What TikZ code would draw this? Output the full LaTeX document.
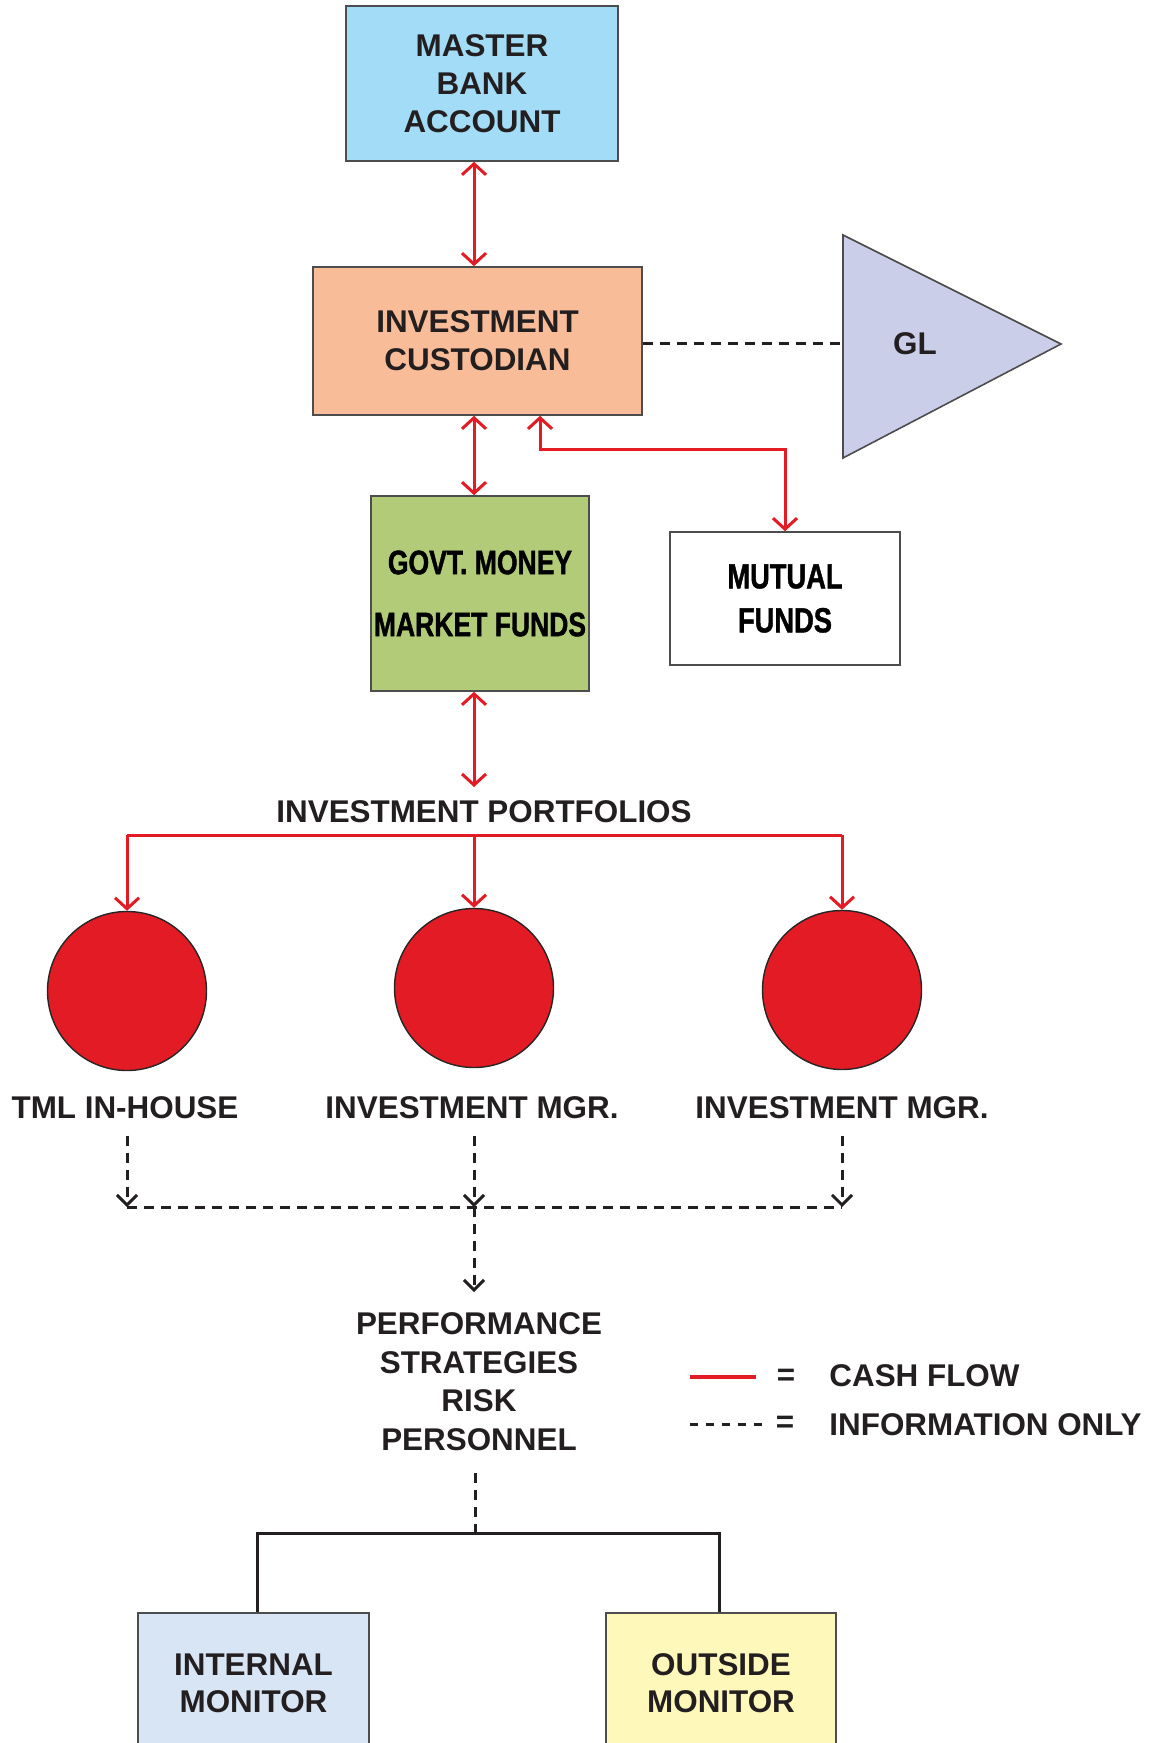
\documentclass[tikz,border=0pt]{standalone}
\usepackage{fontspec}
\setmainfont{Liberation Sans}
\newfontfamily\condf[FakeStretch=0.78,FakeBold=1.2]{Liberation Sans}
\usetikzlibrary{arrows.meta}
\definecolor{txt}{HTML}{231F20}
\definecolor{boxline}{HTML}{4D4D4F}
\definecolor{mbblue}{HTML}{A3DCF6}
\definecolor{custo}{HTML}{F9BC99}
\definecolor{glcol}{HTML}{CACEE8}
\definecolor{govg}{HTML}{B1CB78}
\definecolor{cashred}{HTML}{E21B24}
\definecolor{intcol}{HTML}{D8E5F4}
\definecolor{outcol}{HTML}{FEF8BA}
\begin{document}
\begin{tikzpicture}[x=0.5pt,y=-0.5pt,
  >={Straight Barb[length=5.5pt,width=12pt]},
  every node/.style={text=txt},
  box/.style={draw=boxline,line width=0.8pt,inner sep=0pt,align=center,font=\bfseries\fontsize{15.7}{19}\selectfont},
  lbl/.style={align=center,inner sep=0pt,font=\bfseries\fontsize{15.7}{19}\selectfont},
  cash/.style={draw=cashred,line width=1.5pt},
  info/.style={draw=txt,line width=1.5pt,dash pattern=on 5pt off 3.5pt},
  infotip/.style={-{Straight Barb[length=5pt,width=10pt]}},
  port/.style={circle,minimum size=79.5pt,inner sep=0pt,fill=cashred,draw=black!85,line width=0.7pt},
]
\useasboundingbox (0,0) rectangle (1163,1743);
\fill[white] (0,0) rectangle (1163,1743);

% boxes
\node[box,fill=mbblue,minimum width=136pt,minimum height=77.5pt] (master) at (482,83.5) {MASTER\\BANK\\ACCOUNT};
\node[box,fill=custo,minimum width=164.5pt,minimum height=74pt] (cust) at (477.5,341) {INVESTMENT\\CUSTODIAN};
\node[box,fill=govg,minimum width=109pt,minimum height=97.5pt,text=black,font=\condf\bfseries\fontsize{17}{31}\selectfont] (govt) at (480,593.5) {GOVT. MONEY\\MARKET FUNDS};
\node[box,fill=white,minimum width=115pt,minimum height=66.5pt,text=black,font=\condf\bfseries\fontsize{17.5}{22}\selectfont] (mutual) at (785,598.5) {MUTUAL\\FUNDS};

% GL triangle
\draw[draw=boxline,line width=0.8pt,fill=glcol] (843,235) -- (1061,344) -- (843,458) -- cycle;
\coordinate (glw) at (843,344);
\node[lbl] (gl) at (915,344) {GL};

% cash connectors
\coordinate (ax) at (474,0);
\coordinate (mbend) at (540,450);
\draw[cash,<->] (master.south -| ax) -- (cust.north -| ax);
\draw[cash,<->] (cust.south -| ax) -- (govt.north -| ax);
\draw[cash,<->] (cust.south -| mbend) -- (mbend) -| (mutual.north);
\draw[info] (cust.east |- glw) -- (glw);

\coordinate (pt) at (474,787);
\draw[cash,<->] (govt.south -| ax) -- (pt);
\node[lbl] (portlbl) at (484,812) {INVESTMENT PORTFOLIOS};

% portfolios
\node[port] (c1) at (127,991) {};
\node[port] (c2) at (474,988) {};
\node[port] (c3) at (842,990) {};
\coordinate (h1) at (127,835);
\coordinate (h2) at (474,835);
\coordinate (h3) at (842,835);
\draw[cash] (h1) -- (h3);
\draw[cash,->] (h1) -- (c1.north);
\draw[cash,->] (h2) -- (c2.north);
\draw[cash,->] (h3) -- (c3.north);

\node[lbl] (l1) at (125,1108) {TML IN-HOUSE};
\node[lbl] (l2) at (472,1108) {INVESTMENT MGR.};
\node[lbl] (l3) at (842,1108) {INVESTMENT MGR.};

% information flow
\coordinate (d1) at (127,1207);
\coordinate (d2) at (474,1207);
\coordinate (d3) at (842,1207);
\draw[info,infotip,shorten <=8pt] (l1.south -| d1) -- (d1);
\draw[info,infotip,shorten <=8pt] (l2.south -| d2) -- (d2);
\draw[info,infotip,shorten <=8pt] (l3.south -| d3) -- (d3);
\draw[info] (d1) -- (d3);

\node[lbl,font=\bfseries\fontsize{15.7}{19.3}\selectfont] (perf) at (479,1381.5) {PERFORMANCE\\STRATEGIES\\RISK\\PERSONNEL};
\draw[info,infotip,shorten >=10pt] (d2) -- (perf.north -| d2);

\coordinate (jn) at (475,1533);
\draw[info,shorten <=11pt] (perf.south -| jn) -- (jn);

% monitors
\node[box,fill=intcol,minimum width=115.5pt,minimum height=70.5pt,font=\bfseries\fontsize{15.7}{18.5}\selectfont] (intm) at (253.5,1683.5) {INTERNAL\\MONITOR};
\node[box,fill=outcol,minimum width=115pt,minimum height=70.5pt,font=\bfseries\fontsize{15.7}{18.5}\selectfont] (outm) at (721,1683.5) {OUTSIDE\\MONITOR};
\draw[txt,line width=1.5pt] ([xshift=2pt]intm.north) |- (jn) -| ([xshift=-1pt]outm.north);

% legend
\coordinate (lga) at (690,1377);
\coordinate (lgb) at (756,1377);
\coordinate (lgc) at (690,1424);
\coordinate (lgd) at (765,1424);
\draw[cash,line width=2pt] (lga) -- (lgb);
\draw[info,dash pattern=on 4pt off 4pt] (lgc) -- (lgd);
\node[lbl] (eq1) at (786,1377) {=};
\node[lbl] (eq2) at (785,1424) {=};
\node[lbl,anchor=west] (cf) at (829,1376) {CASH FLOW};
\node[lbl,anchor=west] (io) at (829,1425) {INFORMATION ONLY};
\end{tikzpicture}
\end{document}
